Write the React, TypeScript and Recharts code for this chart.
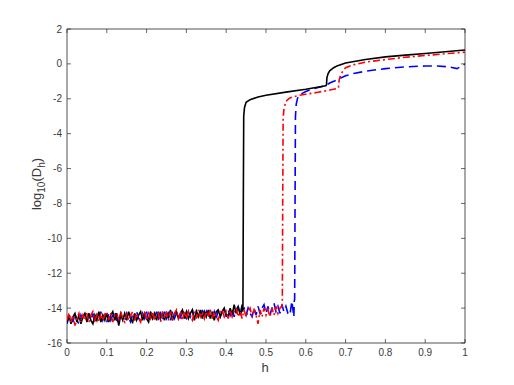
import { LineChart, Line, XAxis, YAxis, ReferenceArea } from "recharts"

// noise floor sampled every 0.005 in h, starting at 0
const noiseStep = 0.005

const blackNoise = [
    -14.8, -14.4, -14.9, -14.5, -14.3, -14.8, -14.4, -14.9, -14.5, -14.3,
    -14.8, -14.3, -14.7, -14.9, -14.4, -14.7, -14.2, -14.8, -14.4, -14.7,
    -14.3, -14.8, -14.4, -14.2, -14.7, -14.3, -15.0, -14.4, -14.7, -14.3,
    -14.7, -14.2, -14.6, -14.8, -14.3, -14.7, -14.4, -14.2, -14.7, -14.3,
    -14.6, -14.8, -14.2, -14.6, -14.3, -14.7, -14.2, -14.6, -14.3, -14.7,
    -14.2, -14.6, -14.1, -14.7, -14.3, -14.2, -14.6, -14.3, -14.1, -14.6,
    -14.2, -14.6, -14.3, -14.1, -14.7, -14.2, -14.5, -14.1, -14.6, -14.2,
    -14.5, -14.1, -14.6, -14.2, -14.7, -14.2, -14.1, -14.5, -14.2, -14.0,
    -14.4, -14.5, -14.0, -14.4, -13.8, -14.3, -13.9, -14.4, -13.8,
]
const blackCurveH = [0.442, 0.443, 0.444, 0.446, 0.45, 0.46, 0.48, 0.5, 0.55, 0.6, 0.65, 0.652, 0.653, 0.656, 0.66, 0.67, 0.68, 0.7, 0.75, 0.8, 0.85, 0.9, 0.95, 1.0]
const blackCurveV = [-14.2, -8, -3, -2.5, -2.2, -2.05, -1.9, -1.8, -1.62, -1.45, -1.25, -1.2, -0.8, -0.55, -0.4, -0.22, -0.1, 0.05, 0.25, 0.4, 0.5, 0.6, 0.7, 0.8]

const redNoise = [
    -14.7, -14.3, -14.8, -14.4, -15.0, -14.6, -14.3, -14.8, -14.4, -14.7,
    -14.3, -14.8, -14.4, -14.2, -14.7, -14.4, -14.8, -14.3, -14.7, -14.4,
    -14.2, -14.7, -14.3, -14.8, -14.4, -14.3, -14.7, -14.2, -14.6, -14.8,
    -14.3, -14.7, -14.4, -14.2, -14.7, -14.3, -14.6, -14.8, -14.3, -14.2,
    -14.7, -14.3, -14.6, -14.2, -14.7, -14.4, -14.3, -14.8, -14.2, -14.6,
    -14.3, -14.7, -14.2, -14.6, -14.3, -14.1, -14.6, -14.3, -14.7, -14.2,
    -14.6, -14.2, -14.5, -14.7, -14.2, -14.6, -14.1, -14.5, -14.2, -14.6,
    -14.2, -14.5, -14.1, -14.6, -14.2, -14.5, -14.7, -14.2, -14.1, -14.5,
    -14.2, -14.6, -14.1, -14.5, -14.2, -14.0, -14.5, -14.2, -14.6, -14.1,
    -14.5, -14.2, -14.0, -14.5, -14.1, -14.4, -14.9, -14.1, -14.5, -14.0,
    -14.4, -14.1, -14.5, -14.0, -14.4, -13.9, -14.3, -14.0, -13.9,
]
const redCurveH = [0.541, 0.542, 0.543, 0.545, 0.55, 0.56, 0.58, 0.6, 0.63, 0.66, 0.68, 0.682, 0.684, 0.688, 0.695, 0.7, 0.72, 0.75, 0.8, 0.85, 0.9, 0.95, 1.0]
const redCurveV = [-13.6, -8, -3.2, -2.6, -2.15, -1.95, -1.82, -1.74, -1.63, -1.5, -1.4, -1.38, -0.9, -0.6, -0.35, -0.22, -0.05, 0.1, 0.25, 0.38, 0.48, 0.58, 0.67]

const blueNoise = [
    -14.9, -14.5, -14.4, -14.8, -14.3, -14.7, -14.9, -14.4, -14.7, -14.3,
    -14.8, -14.4, -14.7, -14.3, -14.8, -14.4, -14.7, -14.2, -14.7, -14.4,
    -14.8, -14.3, -14.7, -14.4, -14.2, -14.7, -14.8, -14.3, -14.6, -14.7,
    -14.3, -14.6, -14.8, -14.3, -14.7, -14.2, -14.6, -14.7, -14.3, -14.6,
    -14.2, -14.7, -14.3, -14.6, -14.7, -14.2, -14.6, -14.3, -14.7, -14.2,
    -14.6, -14.3, -14.7, -14.2, -14.6, -14.3, -14.2, -14.6, -14.1, -14.5,
    -14.6, -14.2, -14.5, -14.1, -14.6, -14.2, -14.5, -14.6, -14.1, -14.5,
    -14.2, -14.6, -14.1, -14.5, -14.2, -14.6, -14.1, -14.5, -14.2, -14.0,
    -14.5, -14.1, -14.4, -14.0, -14.5, -14.1, -13.9, -14.4, -14.1, -14.0,
    -14.4, -14.0, -14.3, -14.5, -14.0, -14.4, -13.9, -14.3, -14.0, -13.8,
    -14.3, -13.9, -14.4, -14.0, -13.7, -14.2, -13.9, -14.3, -13.8, -14.2,
    -13.9, -14.3, -14.4, -13.6, -14.5,
]
const blueCurveH = [0.571, 0.572, 0.573, 0.574, 0.576, 0.58, 0.59, 0.6, 0.62, 0.65, 0.66, 0.68, 0.7, 0.72, 0.75, 0.8, 0.85, 0.9, 0.93, 0.96, 0.98, 0.99, 1.0]
const blueCurveV = [-13.6, -13.5, -8, -3, -2.3, -1.9, -1.7, -1.58, -1.42, -1.25, -1.1, -0.9, -0.68, -0.55, -0.42, -0.27, -0.17, -0.12, -0.12, -0.17, -0.27, -0.15, 0]

const xTicks = [0, 0.1, 0.2, 0.3, 0.4, 0.5, 0.6, 0.7, 0.8, 0.9, 1]
const yTicks = [-16, -14, -12, -10, -8, -6, -4, -2, 0, 2]

function buildSeries(noise: number[], curveH: number[], curveV: number[]) {
    const rows = noise.map((v, i) => ({ h: +(i * noiseStep).toFixed(3), v }))
    return rows.concat(curveH.map((h, i) => ({ h, v: curveV[i] })))
}

const blackData = buildSeries(blackNoise, blackCurveH, blackCurveV)
const redData = buildSeries(redNoise, redCurveH, redCurveV)
const blueData = buildSeries(blueNoise, blueCurveH, blueCurveV)

const PLOT_LEFT = 67
const PLOT_RIGHT = 465
const PLOT_TOP = 29
const PLOT_BOTTOM = 343
const AXIS = "#262626"
const TEXT = "#3a3a3a"
const FONT = "Liberation Sans, Arial, sans-serif"

function XTick(props: any) {
    const { x, payload } = props
    return (
        <g>
            <line x1={x} x2={x} y1={PLOT_BOTTOM} y2={PLOT_BOTTOM - 4} stroke={AXIS} strokeWidth={0.7} />
            <line x1={x} x2={x} y1={PLOT_TOP} y2={PLOT_TOP + 4} stroke={AXIS} strokeWidth={0.7} />
            <text x={x} y={356} textAnchor="middle" fontSize={10} fill={TEXT} fontFamily={FONT}>
                {String(payload.value)}
            </text>
        </g>
    )
}

function YTick(props: any) {
    const { y, payload } = props
    return (
        <g>
            <line x1={PLOT_LEFT} x2={PLOT_LEFT + 4} y1={y} y2={y} stroke={AXIS} strokeWidth={0.7} />
            <line x1={PLOT_RIGHT} x2={PLOT_RIGHT - 4} y1={y} y2={y} stroke={AXIS} strokeWidth={0.7} />
            <text x={62} y={y + 3.5} textAnchor="end" fontSize={10} fill={TEXT} fontFamily={FONT}>
                {String(payload.value)}
            </text>
        </g>
    )
}

export default function App() {
    return (
        <div style={{ position: "absolute", left: 0, top: 0, background: "#fff" }}>
            <LineChart
                width={514}
                height={385}
                margin={{ top: PLOT_TOP, right: 514 - PLOT_RIGHT, bottom: 12, left: 0 }}
            >
                <XAxis
                    type="number"
                    dataKey="h"
                    domain={[0, 1]}
                    ticks={xTicks}
                    allowDataOverflow
                    tick={<XTick />}
                    tickLine={false}
                    axisLine={false}
                    height={30}
                    label={{
                        content: () => (
                            <text x={265} y={372} textAnchor="middle" fontSize={13} fill={TEXT} fontFamily={FONT}>
                                h
                            </text>
                        ),
                    }}
                />
                <YAxis
                    type="number"
                    dataKey="v"
                    domain={[-16, 2]}
                    ticks={yTicks}
                    allowDataOverflow
                    tick={<YTick />}
                    tickLine={false}
                    axisLine={false}
                    width={PLOT_LEFT}
                    label={{
                        content: () => (
                            <text
                                transform="translate(41,184) rotate(-90)"
                                textAnchor="middle"
                                fontSize={13}
                                fill={TEXT}
                                fontFamily={FONT}
                            >
                                log
                                <tspan fontSize={10} dy={4}>10</tspan>
                                <tspan dy={-4}>(D</tspan>
                                <tspan fontSize={10} dy={4}>h</tspan>
                                <tspan dy={-4}>)</tspan>
                            </text>
                        ),
                    }}
                />
                <ReferenceArea x1={0} x2={1} y1={-16} y2={2} fill="none" stroke={AXIS} strokeWidth={0.8} strokeOpacity={1} />
                <Line data={blueData} dataKey="v" type="linear" stroke="#0000ff" strokeWidth={1.6} strokeDasharray="9 5" dot={false} isAnimationActive={false} />
                <Line data={blackData} dataKey="v" type="linear" stroke="#000000" strokeWidth={1.6} dot={false} isAnimationActive={false} />
                <Line data={redData} dataKey="v" type="linear" stroke="#ff0000" strokeWidth={1.6} strokeDasharray="7 3 2 3" dot={false} isAnimationActive={false} />
            </LineChart>
        </div>
    )
}
